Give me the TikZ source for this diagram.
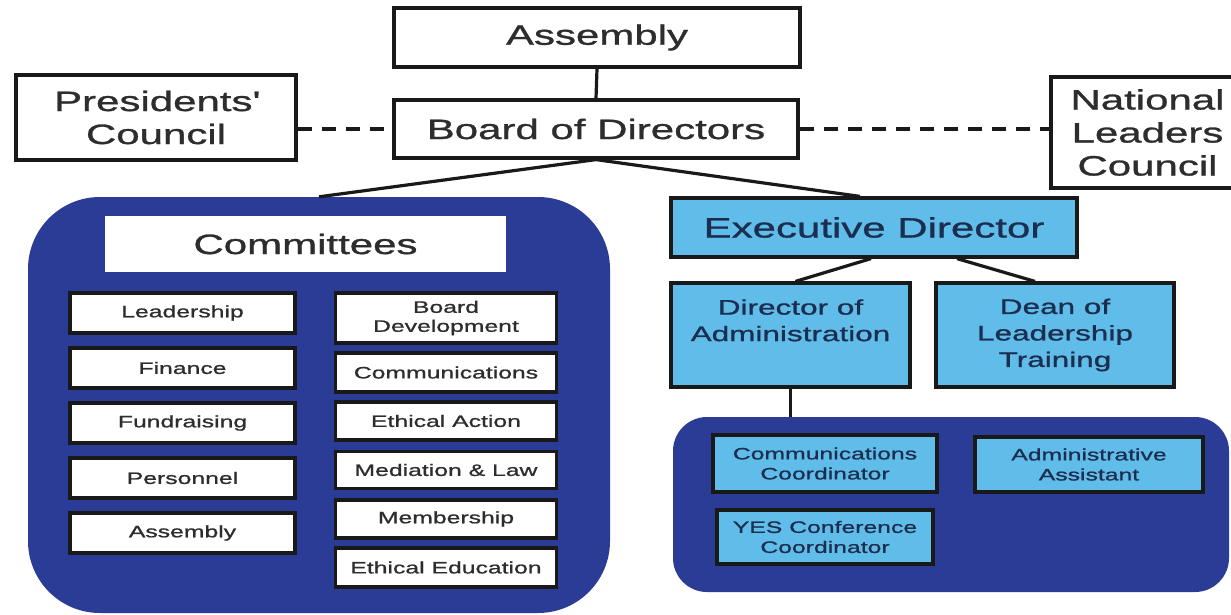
\documentclass[tikz,border=0pt]{standalone}
\usepackage{fontspec}
\setmainfont{Liberation Sans}[FakeStretch=1.5, FakeBold=1]
\definecolor{ltblue}{RGB}{96,188,232}
\definecolor{dkblue}{RGB}{42,60,150}
\definecolor{navy}{RGB}{28,46,80}
\definecolor{txtgray}{RGB}{45,45,45}
\tikzset{
  base/.style={draw=black!90, line width=3.2pt, inner sep=0pt, align=center},
  bigbox/.style={base, fill=white, text=txtgray, font=\fontsize{28}{33}\selectfont},
  smallbox/.style={base, fill=white, text=txtgray, font=\fontsize{16.5}{19}\selectfont},
  edbox/.style={base, fill=ltblue, text=navy, font=\fontsize{28}{33}\selectfont},
  midbox/.style={base, fill=ltblue, text=navy, font=\fontsize{21}{26.5}\selectfont},
  staffbox/.style={base, fill=ltblue, text=navy, font=\fontsize{16.5}{20}\selectfont},
  group/.style={fill=dkblue, draw=none, inner sep=0pt},
  link/.style={draw=black!90, line width=3.2pt},
  dashlink/.style={link, dash pattern=on 14pt off 10pt},
}
\begin{document}
\begin{tikzpicture}[x=1pt, y=-1pt]
\useasboundingbox (0,0) rectangle (1231,614);
\clip (0,0) rectangle (1231,614);
\fill[white] (0,0) rectangle (1231,614);

% groups
\node[group, rounded corners=72pt, minimum width=582pt, minimum height=416pt] (cgroup) at (319,405) {};
\node[group, rounded corners=34pt, minimum width=556pt, minimum height=175pt] (sgroup) at (951,504.5) {};

% top
\node[bigbox, minimum width=406pt, minimum height=59pt] (asm) at (597,37.5) {Assembly};
\node[bigbox, minimum width=404pt, minimum height=58pt] (bod) at (596,129) {Board of Directors};
\node[bigbox, minimum width=280pt, minimum height=85pt] (pc) at (156,117.5) {Presidents\textquotesingle\\Council};
\node[bigbox, minimum width=193pt, minimum height=111pt] (nlc) at (1147.5,132.5) {National\\Leaders\\Council};

% committees
\node[bigbox, draw=none, minimum width=401pt, minimum height=56pt] (chead) at (305.5,244) {Committees};
\node[smallbox, minimum width=225pt, minimum height=40pt] (lead) at (182.5,313) {Leadership};
\node[smallbox, minimum width=225pt, minimum height=40pt] (fin) at (182.5,368) {Finance};
\node[smallbox, minimum width=225pt, minimum height=40pt] (fund) at (182.5,423) {Fundraising};
\node[smallbox, minimum width=225pt, minimum height=40pt] (pers) at (182.5,478) {Personnel};
\node[smallbox, minimum width=225pt, minimum height=40pt] (assy) at (182.5,533) {Assembly};
\node[smallbox, minimum width=221pt, minimum height=50pt] (bdev) at (446,318) {Board\\Development};
\node[smallbox, minimum width=221pt, minimum height=39pt] (comm) at (446,372.5) {Communications};
\node[smallbox, minimum width=221pt, minimum height=38pt] (etha) at (446,421) {Ethical Action};
\node[smallbox, minimum width=221pt, minimum height=37pt] (med) at (446,470) {Mediation \& Law};
\node[smallbox, minimum width=221pt, minimum height=38pt] (memb) at (446,519) {Membership};
\node[smallbox, minimum width=221pt, minimum height=39pt] (ethe) at (446,567.5) {Ethical Education};

% executive side
\node[edbox, minimum width=406pt, minimum height=59pt] (ed) at (874,227.5) {Executive Director};
\node[midbox, minimum width=239pt, minimum height=104pt] (da) at (790.5,335) {Director of\\Administration\\[3pt]\mbox{}};
\node[midbox, minimum width=238pt, minimum height=104pt] (dean) at (1055,335) {Dean of\\Leadership\\Training};
\node[staffbox, minimum width=224pt, minimum height=57pt] (cc) at (825,463.5) {Communications\\Coordinator};
\node[staffbox, minimum width=228pt, minimum height=55pt] (aa) at (1089,464.5) {Administrative\\Assistant};
\node[staffbox, minimum width=216pt, minimum height=54pt] (yes) at (825,537) {YES Conference\\Coordinator};

% connectors
\draw[link] (asm.south) -- (bod.north);
\draw[dashlink] (pc.east |- bod.west) -- (bod.west);
\draw[dashlink] (bod.east) -- (nlc.west |- bod.east);
\draw[link] (bod.south) -- (cgroup.north);
\draw[link] (bod.south) -- ([xshift=-14pt]ed.north);
\draw[link] ([xshift=-3pt]ed.south) -- ([xshift=5pt]da.north);
\draw[link] ([xshift=83pt]ed.south) -- ([xshift=-20pt]dean.north);
\draw[link] (da.south) -- (da.south |- sgroup.north);
\end{tikzpicture}
\end{document}
